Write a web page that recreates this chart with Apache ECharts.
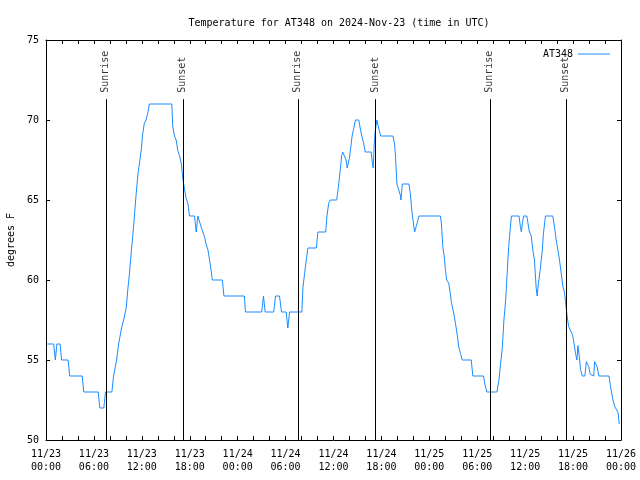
<!DOCTYPE html>
<html><head><meta charset="utf-8">
<script src="https://cdn.jsdelivr.net/npm/echarts@6/dist/echarts.min.js"></script>
<style>html,body{margin:0;padding:0;background:#fff}#c{width:640px;height:480px}</style>
</head><body><div id="c"></div>
<script>
// hours since 2024-11-23 00:00 UTC
const hours = [
0.17,0.96,1.17,1.36,1.76,1.96,2.77,2.97,4.53,4.73,6.54,6.74,7.24,7.45,8.25,8.46,8.65,8.84,9.09,9.28,
9.46,9.72,9.84,10.06,10.26,10.47,10.68,10.88,11.10,11.31,11.51,11.73,11.94,
12.10,12.31,12.53,12.73,12.94,15.75,15.87,16.08,16.30,16.50,16.71,16.93,17.13,17.34,17.55,17.76,17.97,18.60,18.81,19.01,
19.23,19.44,19.64,19.85,20.07,20.27,20.48,20.70,20.82,22.08,22.28,
24.84,24.97,27.01,27.23,27.44,28.52,28.74,29.24,29.49,30.08,30.28,30.50,32.04,32.17,32.38,32.59,32.80,33.85,34.05,35.02,35.18,35.40,35.61,
36.40,36.61,36.83,37.03,37.15,37.40,37.58,37.71,37.91,37.99,38.21,38.33,38.50,38.75,39.16,39.34,39.54,39.75,39.97,40.72,
40.85,40.97,41.10,41.22,41.43,41.68,41.89,43.44,43.65,43.78,43.94,44.19,44.37,44.44,44.62,45.45,45.62,45.79,45.95,46.16,46.38,46.58,46.70,
49.39,49.52,49.68,49.86,50.02,50.18,50.43,50.61,50.77,51.02,51.27,51.52,51.69,51.90,52.12,53.25,53.45,54.79,54.95,55.21,
56.46,56.72,56.93,57.14,57.34,57.56,57.72,57.94,58.06,58.28,59.23,59.41,59.53,59.66,59.82,
60.20,60.37,60.53,60.75,60.95,61.16,61.38,61.50,61.66,61.88,62.13,62.29,62.42,62.54,63.46,63.68,63.89,64.09,64.30,64.52,
64.72,64.93,65.15,65.27,65.44,65.69,65.90,66.06,66.31,66.48,66.60,66.78,66.94,67.16,67.48,67.66,67.78,67.95,68.16,68.58,
68.70,68.83,68.99,69.24,70.50,70.67,70.84,71.00,71.21,71.42,71.64,71.77
];
const temps = [
56,56,55,56,56,55,55,54,54,53,53,52,52,53,53,54,54,55,56,56,
57,57.5,57.5,58.3,59.5,60.5,61.8,62.8,64.2,65.5,66.6,67.4,68.2,
69.1,69.8,70,70.4,71,71,69.6,69,68.75,68.1,67.8,67.3,66.35,65.7,65.1,64.8,64,64,63,64,
64,63.3,63,62.7,62.2,61.9,61.25,60.5,60,60,59,
59,58,58,59,58,58,59,59,58,58,57,58,58,59.5,60.4,61.25,62,62,63,63,64,64.8,65,
65,65.8,66.8,67.8,68,68,67.5,67,67,67.6,68.5,69,69.4,70,70,69.5,69,68.6,68,68,
67.4,67,68.5,69.3,70,70,69,69,68.5,67.6,66,66,65.3,65,66,66,65.4,64.4,63.75,63,63,63.75,64,
64,63.5,62.1,61.5,60.6,60,59.8,59.2,58.6,58,57.3,56.5,55.8,55.4,55,55,54,54,53.5,53,
53,53.75,54.8,55.8,57.5,58.75,60.2,62.1,62.8,64,64,63.3,63,63.6,64,
64,63.5,63,62.8,61.9,61.25,59.5,59,59.8,60.6,61.8,62.9,63.5,64,64,63.3,62.5,61.9,61.25,60.4,
59.6,59.2,58.2,57.7,57.1,57,56.6,56.25,55.4,55,55.9,55.2,54.4,54,54,54.9,55,54.6,54.1,54,
54.9,55,54.6,54,54,53.4,52.9,52.5,52.1,52,51.7,51
];
const eventNames = ['Sunrise','Sunset','Sunrise','Sunset','Sunrise','Sunset'];
const eventHours = [7.49,17.13,31.53,41.22,55.57,65.09];
const eventLineTop = 71.3;
const eventLabelAt = 71.7;
const xTickDates = ['11/23','11/24','11/25','11/26'];
const seriesName = 'AT348';
const titleText = 'Temperature for AT348 on 2024-Nov-23 (time in UTC)';
const yName = 'degrees F';

const FONT = 'DejaVu Sans Mono';
const LINE_COLOR = '#1a8cff';
const fmtX = v => {
  if (v % 6 !== 0) return '';
  const d = Math.floor(v / 24);
  const hh = v % 24;
  return xTickDates[d] + '\n' + (hh < 10 ? '0' : '') + hh + ':00';
};
const axisCommon = {
  axisLine: {show: true, onZero: false, lineStyle: {color: '#000', width: 1}},
  axisTick: {show: true, inside: true, length: 4, lineStyle: {color: '#000'}},
  splitLine: {show: false}
};
const chart = echarts.init(document.getElementById('c'), null, {renderer: 'canvas'});
chart.setOption({
  animation: false,
  backgroundColor: '#fff',
  title: {text: titleText, left: 334, top: 13, textAlign: 'center',
    textStyle: {fontFamily: FONT, fontSize: 10, fontWeight: 'normal', color: '#000'}},
  legend: {data: [{name: seriesName, icon: 'rect', itemStyle: {color: LINE_COLOR}}],
    right: 30, top: 49, padding: 0, itemWidth: 32, itemHeight: 1, align: 'right', itemGap: 4,
    textStyle: {fontFamily: FONT, fontSize: 10, color: '#000'}},
  grid: {left: 46, top: 40, width: 575, height: 400, containLabel: false, outerBoundsMode: 'none'},
  xAxis: [
    Object.assign({type: 'value', min: 0, max: 72, interval: 2, position: 'bottom',
      axisLabel: {formatter: fmtX, fontFamily: FONT, fontSize: 10, color: '#000', lineHeight: 13, margin: 8,
        showMinLabel: true, showMaxLabel: true}}, axisCommon),
    Object.assign({type: 'value', min: 0, max: 72, interval: 2, position: 'top', axisLabel: {show: false}}, axisCommon)
  ],
  yAxis: [
    Object.assign({type: 'value', min: 50, max: 75, interval: 5, position: 'left',
      name: yName, nameLocation: 'middle', nameGap: 29,
      nameTextStyle: {fontFamily: FONT, fontSize: 10, color: '#000'},
      axisLabel: {fontFamily: FONT, fontSize: 10, color: '#000', margin: 7}}, axisCommon),
    Object.assign({type: 'value', min: 50, max: 75, interval: 5, position: 'right', axisLabel: {show: false}}, axisCommon)
  ],
  series: [
    {
      name: seriesName, type: 'line', xAxisIndex: 0, yAxisIndex: 0,
      data: hours.map((h, i) => [h, temps[i]]),
      symbol: 'none', lineStyle: {width: 1, color: LINE_COLOR}, itemStyle: {color: LINE_COLOR},
      markLine: {
        silent: true, symbol: 'none', label: {show: false},
        lineStyle: {color: '#000', width: 1, type: 'solid'},
        data: eventHours.map(h => [{coord: [h, 50]}, {coord: [h, eventLineTop]}])
      },
      z: 3
    },
    {
      name: 'events', type: 'scatter', xAxisIndex: 0, yAxisIndex: 0,
      data: eventHours.map((h, i) => [h, eventLabelAt, eventNames[i]]),
      symbolSize: 1, itemStyle: {color: 'rgba(0,0,0,0)'}, silent: true,
      label: {show: true, position: 'inside', rotate: 90, align: 'left', verticalAlign: 'middle',
        formatter: p => p.data[2], fontFamily: FONT, fontSize: 10, color: '#000'}
    }
  ]
});
</script></body></html>
